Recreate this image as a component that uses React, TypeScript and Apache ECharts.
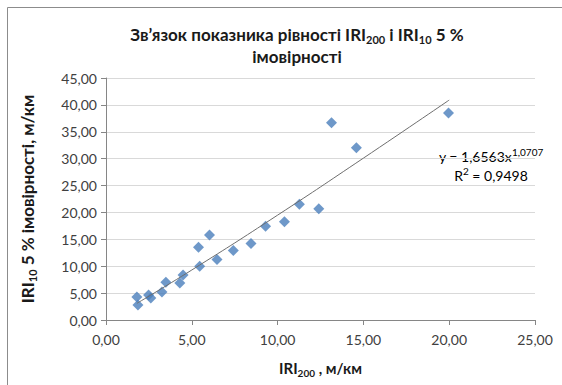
import React, { useEffect, useRef } from "react";
import * as echarts from "echarts";

const iri200: number[] = [1.80, 1.86, 2.48, 2.61, 3.26, 3.49, 4.30, 4.49, 5.39, 5.46, 6.03, 6.47, 7.42, 8.45, 9.30, 10.40, 11.27, 12.40, 13.14, 14.59, 19.96];
const iri10: number[] = [4.29, 2.80, 4.66, 4.10, 5.22, 7.02, 6.90, 8.39, 13.55, 10.00, 15.79, 11.25, 12.93, 14.24, 17.41, 18.28, 21.51, 20.71, 36.68, 32.01, 38.49];
// trend line points
const trendX: number[] = [1.8, 5, 10, 15, 20];
const trendY: number[] = [3.1, 9.3, 19.5, 30.1, 40.9];

const FONT = "Lato, 'Open Sans', sans-serif";

export default function App() {
  const ref = useRef<HTMLDivElement>(null);
  useEffect(() => {
    if (!ref.current) return;
    const chart = echarts.init(ref.current, undefined, { renderer: "svg" });
    const fmt = (v: number) => v.toFixed(2).replace(".", ",");
    chart.setOption({
      animation: false,
      backgroundColor: "#fff",
      textStyle: { fontFamily: FONT },
      grid: { left: 106, right: 27, top: 78, bottom: 65 },
      title: {
        text: "{b|Зв’язок показника рівності IRI}{s|200}{b| і IRI}{s|10}{b| 5 %}\n{b|імовірності}",
        left: 292,
        top: 18,
        textAlign: "center",
        textStyle: {
          rich: {
            b: { fontSize: 17, fontWeight: "bold", color: "#1a1a1a", fontFamily: FONT, lineHeight: 22 },
            s: { fontSize: 11, fontWeight: "bold", color: "#1a1a1a", fontFamily: FONT, lineHeight: 22, verticalAlign: "bottom", padding: [6, 0, 0, 0] },
          },
        },
      },
      xAxis: {
        type: "value",
        min: 0,
        max: 25,
        interval: 5,
        axisLine: { show: true, lineStyle: { color: "#868686" } },
        axisTick: { show: true, length: 5, lineStyle: { color: "#868686" } },
        splitLine: { show: false },
        axisLabel: { formatter: fmt, color: "#404040", fontSize: 14, fontFamily: FONT, margin: 12 },
        name: "{b|IRI}{s|200}{b| , м/км}",
        nameLocation: "middle",
        nameGap: 38,
        nameTextStyle: {
          rich: {
            b: { fontSize: 15, fontWeight: "bold", color: "#1a1a1a", fontFamily: FONT, lineHeight: 20 },
            s: { fontSize: 10, fontWeight: "bold", color: "#1a1a1a", fontFamily: FONT, lineHeight: 20, verticalAlign: "bottom", padding: [5, 0, 0, 0] },
          },
        },
      },
      yAxis: {
        type: "value",
        min: 0,
        max: 45,
        interval: 5,
        axisLine: { show: true, lineStyle: { color: "#868686" } },
        axisTick: { show: true, length: 5, lineStyle: { color: "#868686" } },
        splitLine: { show: true, lineStyle: { color: "#d9d9d9" } },
        axisLabel: { formatter: fmt, color: "#404040", fontSize: 14, fontFamily: FONT, margin: 9 },
        name: "{b|IRI}{s|10}{b| 5 % імовірності, м/км}",
        nameLocation: "middle",
        nameRotate: 90,
        nameGap: 68,
        nameTextStyle: {
          rich: {
            b: { fontSize: 17, fontWeight: "bold", color: "#1a1a1a", fontFamily: FONT, lineHeight: 22 },
            s: { fontSize: 11, fontWeight: "bold", color: "#1a1a1a", fontFamily: FONT, lineHeight: 22, verticalAlign: "bottom", padding: [6, 0, 0, 0] },
          },
        },
      },
      graphic: [
        {
          type: "rect",
          shape: { x: 7.5, y: 7.5, width: 570, height: 400 },
          style: { fill: "none", stroke: "#8c8c8c", lineWidth: 1 },
          silent: true,
        },
        {
          type: "text",
          x: 491,
          y: 147,
          style: {
            text: "{n|y = 1,6563x}{p|1,0707}\n{n|R}{p|2}{n| = 0,9498}",
            align: "center",
            rich: {
              n: { fontSize: 14, color: "#1a1a1a", fontFamily: FONT, lineHeight: 19 },
              p: { fontSize: 10, color: "#1a1a1a", fontFamily: FONT, lineHeight: 19, verticalAlign: "top", padding: [0, 0, 6, 0] },
            },
          },
        },
      ],
      series: [
        {
          type: "line",
          data: trendX.map((x, i) => [x, trendY[i]]),
          showSymbol: false,
          symbol: "none",
          smooth: true,
          lineStyle: { color: "#6e6e6e", width: 1 },
          z: 3,
        },
        {
          type: "scatter",
          data: iri200.map((x, i) => [x, iri10[i]]),
          symbol: "diamond",
          symbolSize: [11, 11],
          itemStyle: { color: "#4a7ebb" },
          z: 2,
        },
      ],
    });
    return () => chart.dispose();
  }, []);
  return <div ref={ref} style={{ width: 562, height: 385, position: "absolute", left: 0, top: 0 }} />;
}
